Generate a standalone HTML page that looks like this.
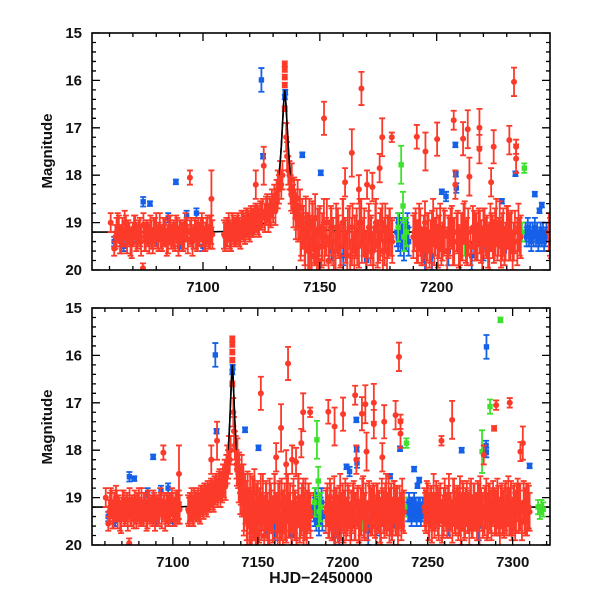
<!DOCTYPE html>
<html><head><meta charset="utf-8">
<style>
body{margin:0;background:#fff;}
svg{display:block;font-family:"Liberation Sans",sans-serif;}
.tl{font-size:15px;font-weight:bold;fill:#111;}
</style></head>
<body>
<svg id="chart" width="600" height="600" viewBox="0 0 600 600" xmlns="http://www.w3.org/2000/svg">
<defs>
<clipPath id="clipTop"><rect x="92" y="33" width="458" height="237"/></clipPath>
<clipPath id="clipBot"><rect x="92" y="308" width="458" height="237"/></clipPath>
</defs>
<text class="tl" transform="translate(52,151) rotate(-90)" text-anchor="middle" style="font-size:15px">Magnitude</text>
<text class="tl" transform="translate(52,427) rotate(-90)" text-anchor="middle" style="font-size:15px">Magnitude</text>
<text class="tl" x="321" y="583" text-anchor="middle" style="font-size:16px">HJD−2450000</text>
</svg>
<script>
// ---- data ----
const redT=[7060.5,7062,7063,7064,7065,7066,7067,7068,7069,7070,7071,7072,7073,7074.3,7075,7076,7077,7078,7079,7080,7081,7082,7083,7084,7085,7086,7087,7088,7089,7090,7091,7092,7093,7094.4,7095,7096,7097,7098,7099,7100,7101,7102,7103,7103.6,7104,
7109,7110,7111,7112,7113,7114,7115,7116,7117,7118,7119,7120,7121,7122,7122.6,7123,7124,7125,7126,7127,7128,7129,7130,7131,7132,7133,7134,
7135,7135,7135,7135,7135,7135.6,7136,7136.5,
7137,7137.5,7138,7138.5,7139,7139.5,7140,7140.5,7141,7141.5,7142,7142.5,7143,7143.5,7144,7144.5,7145,7145.5,7146,7146.5,7147,7147.5,7148,7148.5,7149,7149.5,7150,7151,7151.8,7152,7153,7154,7155,7156,7157,7158,7159,7160,7160.8,7161,7162,7163,7163.7,7164,7165,7166,7166.7,7167,7167.8,7168,7169,7170,7170.2,7171,7172,7172.5,7173,7174,7175,7175.6,7176,7176.7,7177,7178,7179,7180,7180.8,7181,
7190,7191,7191.5,7192,7193,7194,7195,7195.2,7196,7197,7198,7199,7200,7200.2,7201,7202,7203,7205,7206,7207,7207.3,7208,7209,7210,7211,7211.3,7212,7213,7213.3,7214,7216,7217,7218,7218.3,7218.3,7219,7220,7221,7222,7223,7223.3,7224,7224.4,7225,7226,7227,7228,7229,7230,7231,7231.1,7232,7233,7233.1,7234,7234,7235,7236,
7248,7249,7250,7251,7252,7253,7254,7255,7256,7257,7258.1,7259,7260,7261,7262,7263,7264.4,7265,7266,7267,7268,7269,7270,7271,7272,7273,7274,7275,7276,7277,7278,7279,7280,7281,7282,7283,7284,7285,7286,7287,7288,7289.1,7290,7290.3,7291,7292,7293,7294,7295,7296,7297,7298,7298.3,7299,7300,7301,7302,7303,7304,7304.6,7306,7307,7308,7309,7310];
const redM=[19.0,19.55,19.2,19.1,19.35,19.3,19.15,19.2,19.4,19.25,19.15,19.3,19.2,19.96,19.3,19.2,19.35,19.25,19.15,19.1,19.3,19.3,19.2,19.2,19.35,19.15,19.25,19.3,19.2,19.2,19.3,19.25,19.15,18.05,19.2,19.3,19.25,19.2,19.15,19.2,19.3,19.15,19.2,18.5,19.25,
19.25,19.2,19.1,19.3,19.15,19.2,19.1,19.25,19.05,19.15,19.0,19.1,19.0,18.95,18.2,18.9,19.0,18.85,17.8,18.75,18.9,18.8,18.7,18.75,18.3,18.0,18.0,
15.65,15.77,15.93,16.1,16.6,17.2,17.6,17.9,
18.0,18.3,18.1,18.5,18.4,18.6,18.8,18.5,19.0,18.7,19.3,18.9,19.1,19.5,18.9,19.2,19.6,19.0,19.3,19.7,19.1,19.4,18.9,19.5,19.2,19.8,19.1,19.3,16.8,19.5,19.0,19.4,19.2,19.6,19.1,19.3,19.5,19.0,18.15,19.4,19.2,19.7,17.53,19.1,19.3,19.5,18.3,19.0,16.17,19.4,19.2,19.6,18.2,19.1,19.3,18.25,19.5,19.0,19.4,17.85,19.2,17.2,19.6,19.1,19.3,19.2,17.2,19.4,
19.3,19.1,17.19,19.4,19.2,19.5,19.0,17.5,19.3,19.6,19.2,19.4,19.1,17.24,19.3,19.5,19.2,19.3,19.1,19.4,16.84,18.2,19.2,19.5,19.3,17.23,19.0,19.4,17.03,18.03,19.2,19.3,19.1,17.0,17.45,19.4,19.2,19.3,19.5,19.1,18.15,19.3,17.4,19.2,19.4,19.0,19.3,19.5,19.1,19.3,17.26,19.2,19.4,16.03,17.4,17.65,19.1,19.3,
19.2,19.3,19.1,19.4,19.2,19.3,19.5,19.1,19.3,19.2,17.8,19.4,19.1,19.3,19.2,19.5,17.36,19.1,19.3,19.2,19.4,19.0,19.3,19.2,19.5,19.1,19.3,19.2,19.4,19.1,19.3,19.5,19.2,19.0,19.3,18.1,19.2,19.4,19.1,19.3,19.2,17.54,19.3,17.05,19.1,19.4,19.2,19.3,19.5,19.1,19.2,19.3,17.0,19.1,19.4,19.2,19.3,19.0,19.2,18.03,17.85,19.3,19.1,19.2,19.3];
const redE=[0.2,0.15,0.3,0.25,0.3,0.2,0.3,0.25,0.3,0.25,0.3,0.25,0.3,0.1,0.3,0.25,0.3,0.3,0.25,0.3,0.3,0.25,0.3,0.25,0.3,0.3,0.25,0.3,0.3,0.25,0.3,0.3,0.25,0.15,0.3,0.25,0.3,0.3,0.25,0.3,0.3,0.3,0.35,0.6,0.3,
0.3,0.3,0.3,0.3,0.3,0.3,0.3,0.3,0.3,0.3,0.3,0.3,0.3,0.3,0.3,0.3,0.3,0.3,0.4,0.3,0.3,0.3,0.3,0.3,0.4,0.3,0.3,
0.05,0.05,0.05,0.05,0.05,0.3,0.3,0.3,
0.3,0.3,0.35,0.3,0.35,0.3,0.35,0.4,0.35,0.4,0.4,0.4,0.45,0.4,0.45,0.4,0.45,0.5,0.45,0.4,0.5,0.45,0.5,0.4,0.5,0.3,0.45,0.5,0.35,0.4,0.5,0.45,0.5,0.4,0.5,0.45,0.4,0.5,0.3,0.45,0.5,0.3,0.5,0.5,0.45,0.4,0.3,0.5,0.35,0.45,0.5,0.4,0.3,0.5,0.45,0.3,0.4,0.5,0.45,0.3,0.5,0.4,0.45,0.5,0.45,0.5,0.1,0.45,
0.45,0.4,0.25,0.45,0.5,0.4,0.45,0.4,0.5,0.35,0.45,0.5,0.4,0.35,0.45,0.4,0.5,0.45,0.4,0.5,0.2,0.3,0.45,0.4,0.5,0.35,0.45,0.5,0.4,0.4,0.45,0.5,0.4,0.4,0.3,0.45,0.5,0.4,0.45,0.5,0.3,0.45,0.35,0.5,0.4,0.45,0.5,0.4,0.45,0.5,0.3,0.45,0.4,0.3,0.15,0.3,0.5,0.45,
0.4,0.45,0.4,0.5,0.45,0.4,0.35,0.45,0.5,0.4,0.1,0.45,0.5,0.4,0.45,0.35,0.4,0.5,0.45,0.4,0.5,0.45,0.4,0.5,0.35,0.45,0.4,0.5,0.45,0.4,0.35,0.4,0.5,0.45,0.4,0.2,0.45,0.5,0.4,0.45,0.4,0.05,0.45,0.1,0.5,0.4,0.45,0.5,0.35,0.45,0.4,0.5,0.1,0.45,0.4,0.5,0.45,0.4,0.5,0.2,0.35,0.45,0.4,0.5,0.4];
// dense baseline red observations (interleaved)
const redDT=[7062.5,7063.5,7064.5,7065.5,7066.5,7067.5,7068.5,7069.5,7070.5,7071.5,7072.5,7073.5,7074.5,7075.5,7076.5,7077.5,7078.5,7079.5,7080.5,7081.5,7082.5,7083.5,7084.5,7085.5,7086.5,7087.5,7088.5,7089.5,7090.5,7091.5,7092.5,7093.5,7094.5,7095.5,7096.5,7097.5,7098.5,7099.5,7100.5,7101.5,7102.5,7103.5,
7109.5,7110.5,7111.5,7112.5,7113.5,7114.5,7115.5,7116.5,7117.5,7118.5,7119.5,7120.5,7121.5,7122.5,7123.5,7124.5,7125.5,7126.5,7127.5,7128.5,7129.5,7130.5,7131.5,7132.5,7133.5,
7137.75,7138.75,7139.75,7140.75,7141.75,7142.75,7143.75,7144.75,7145.75,7146.75,7147.75,7148.75,7149.75,7150.75,7151.75,7152.75,7153.75,7154.75,7155.75,7156.75,7157.75,7158.75,7159.75,7160.75,7161.75,7162.75,7163.75,7164.75,7165.75,7166.75,7167.75,7168.75,7169.75,7170.75,7171.75,7172.75,7173.75,7174.75,7175.75,7176.75,7177.75,7178.75,7179.75,7180.75,
7190.5,7191.5,7192.5,7193.5,7194.5,7195.5,7196.5,7197.5,7198.5,7199.5,7200.5,7201.5,7202.5,7203.5,7204.5,7205.5,7206.5,7207.5,7208.5,7209.5,7210.5,7211.5,7212.5,7213.5,7214.5,7215.5,7216.5,7217.5,7218.5,7219.5,7220.5,7221.5,7222.5,7223.5,7224.5,7225.5,7226.5,7227.5,7228.5,7229.5,7230.5,7231.5,7232.5,7233.5,7234.5,7235.5,
7248.5,7249.5,7250.5,7251.5,7252.5,7253.5,7254.5,7255.5,7256.5,7257.5,7258.5,7259.5,7260.5,7261.5,7262.5,7263.5,7264.5,7265.5,7266.5,7267.5,7268.5,7269.5,7270.5,7271.5,7272.5,7273.5,7274.5,7275.5,7276.5,7277.5,7278.5,7279.5,7280.5,7281.5,7282.5,7283.5,7284.5,7285.5,7286.5,7287.5,7288.5,7289.5,7290.5,7291.5,7292.5,7293.5,7294.5,7295.5,7296.5,7297.5,7298.5,7299.5,7300.5,7301.5,7302.5,7303.5,7304.5,7305.5,7306.5,7307.5,7308.5,7309.5];
const redDM=[19.3,19.1,19.4,19.2,19.0,19.35,19.25,19.45,19.1,19.3,19.2,19.4,19.05,19.3,19.25,19.15,19.4,19.2,19.3,19.1,19.35,19.2,19.45,19.15,19.3,19.25,19.1,19.4,19.2,19.3,19.05,19.35,19.2,19.4,19.15,19.3,19.25,19.1,19.35,19.2,19.3,19.15,
19.3,19.2,19.25,19.1,19.2,19.15,19.2,19.05,19.1,19.0,19.05,18.95,19.0,18.9,18.95,18.85,18.8,18.9,18.7,18.75,18.6,18.5,18.4,18.3,18.2,
18.4,18.7,18.9,19.0,19.3,19.1,19.5,19.2,19.6,19.0,19.4,19.7,19.2,19.5,19.0,19.3,19.8,19.1,19.4,19.6,19.2,19.5,19.0,19.3,19.7,19.1,19.4,19.6,19.2,19.5,19.0,19.3,19.7,19.2,19.4,19.6,19.1,19.5,19.3,19.0,19.4,19.6,19.2,19.3,
19.2,19.4,19.1,19.5,19.3,19.6,19.2,19.4,19.0,19.3,19.5,19.1,19.4,19.2,19.6,19.3,19.1,19.4,19.2,19.5,19.3,19.0,19.4,19.2,19.5,19.1,19.3,19.4,19.2,19.6,19.1,19.3,19.5,19.2,19.4,19.0,19.3,19.5,19.2,19.4,19.1,19.3,19.6,19.2,19.4,19.3,
19.3,19.1,19.4,19.2,19.5,19.0,19.3,19.2,19.4,19.1,19.5,19.3,19.2,19.4,19.0,19.3,19.5,19.1,19.4,19.2,19.3,19.6,19.1,19.4,19.2,19.3,19.5,19.0,19.4,19.2,19.3,19.1,19.5,19.2,19.4,19.3,19.0,19.4,19.2,19.5,19.1,19.3,19.4,19.2,19.6,19.1,19.3,19.2,19.4,19.0,19.3,19.5,19.2,19.4,19.1,19.3,19.2,19.5,19.1,19.3,19.4,19.2];
const redDE=[0.25,0.3,0.25,0.3,0.25,0.3,0.25,0.3,0.25,0.3,0.25,0.3,0.25,0.3,0.25,0.3,0.25,0.3,0.25,0.3,0.25,0.3,0.25,0.3,0.25,0.3,0.25,0.3,0.25,0.3,0.25,0.3,0.25,0.3,0.25,0.3,0.25,0.3,0.25,0.3,0.25,0.3,
0.3,0.3,0.3,0.3,0.3,0.3,0.3,0.3,0.3,0.3,0.3,0.3,0.3,0.3,0.3,0.3,0.3,0.3,0.3,0.3,0.3,0.3,0.3,0.3,0.3,
0.35,0.4,0.45,0.4,0.5,0.45,0.5,0.4,0.5,0.45,0.5,0.4,0.5,0.45,0.5,0.4,0.5,0.45,0.5,0.4,0.5,0.45,0.5,0.4,0.5,0.45,0.5,0.4,0.5,0.45,0.5,0.4,0.5,0.45,0.5,0.4,0.5,0.45,0.5,0.4,0.5,0.45,0.5,0.4,
0.4,0.45,0.5,0.4,0.45,0.5,0.4,0.45,0.5,0.4,0.45,0.5,0.4,0.45,0.5,0.4,0.45,0.5,0.4,0.45,0.5,0.4,0.45,0.5,0.4,0.45,0.5,0.4,0.45,0.5,0.4,0.45,0.5,0.4,0.45,0.5,0.4,0.45,0.5,0.4,0.45,0.5,0.4,0.45,0.5,0.4,
0.4,0.45,0.5,0.4,0.45,0.5,0.4,0.45,0.5,0.4,0.45,0.5,0.4,0.45,0.5,0.4,0.45,0.5,0.4,0.45,0.5,0.4,0.45,0.5,0.4,0.45,0.5,0.4,0.45,0.5,0.4,0.45,0.5,0.4,0.45,0.5,0.4,0.45,0.5,0.4,0.45,0.5,0.4,0.45,0.5,0.4,0.45,0.5,0.4,0.45,0.5,0.4,0.45,0.5,0.4,0.45,0.5,0.4,0.45,0.5,0.4,0.45];
const blueT=[7062,7066,7070,7074.4,7077.3,7080,7085.1,7088.4,7090,7093,7097.2,7100,7112,7118,7125.0,7125.7,7130,7135,7135.2,7142.5,7150.4,7155,7160,7165,7170,
7183,7183.5,7184,7184.5,7185,7185.5,7186,7186.5,7187,7187.5,7188,7195,7198,7202.2,7204,7205,7208,7208.2,7208.4,7215,7220,7227.9,7229,7233.7,7238,7238.5,7239,7239.5,7240,7240.5,7241,7241.5,7242,7242,7242.5,7243,7243.5,7244,7244,7244.5,7245,7245,7245.5,7246,7246.5,7247,
7262,7270,7275,7280,7284.4,7284.5,7284.6,7292,7300,7310];
const blueM=[19.4,19.5,19.3,18.56,18.6,19.4,18.9,18.14,19.5,18.85,18.8,19.5,19.3,19.2,15.99,17.6,18.6,16.35,16.25,17.57,17.95,19.6,19.7,19.5,19.8,
19.2,19.3,19.1,19.4,19.2,19.3,19.5,19.2,19.3,19.1,19.4,19.8,19.7,18.35,18.45,19.6,17.36,17.98,18.27,19.7,19.5,18.55,19.6,17.97,19.2,19.3,19.1,19.3,19.2,19.4,19.2,19.3,19.1,18.4,19.3,19.2,19.4,19.3,18.75,19.2,19.3,18.63,19.2,19.4,19.3,19.2,
19.6,18.0,19.5,19.6,17.9,18.05,15.82,19.6,19.5,18.33];
const blueE=[0.1,0.1,0.1,0.1,0.05,0.1,0.1,0.05,0.1,0.1,0.1,0.1,0.1,0.1,0.25,0.05,0.2,0.05,0.05,0.05,0.05,0.2,0.2,0.2,0.3,
0.3,0.3,0.3,0.3,0.3,0.3,0.3,0.3,0.3,0.3,0.3,0.3,0.3,0.05,0.1,0.3,0.05,0.05,0.1,0.3,0.3,0.05,0.3,0.05,0.2,0.2,0.2,0.2,0.2,0.2,0.2,0.2,0.2,0.05,0.2,0.2,0.2,0.2,0.05,0.2,0.2,0.05,0.2,0.2,0.2,0.2,
0.2,0.05,0.2,0.3,0.1,0.1,0.25,0.2,0.2,0.05];
const greenT=[7183.5,7184.8,7185.6,7186,7187,7212,7236.5,7237.5,7282,7286.7,7292.8,7315,7316,7317,7318];
const greenM=[19.1,17.78,18.65,19.3,19.2,19.4,19.2,17.85,18.03,17.08,15.25,19.2,19.3,19.2,19.25];
const greenE=[0.3,0.4,0.3,0.3,0.3,0.3,0.2,0.1,0.45,0.15,0.05,0.15,0.15,0.15,0.15];
const modelT=[7050,7100,7115,7120,7124,7126,7128,7129,7130,7131,7132,7133,7133.5,7134,7134.5,7135,7135.5,7136,7136.5,7137,7138,7139,7140,7142,7144,7147,7150,7155,7160,7170,7330];
const modelM=[19.2,19.2,19.18,19.15,19.08,19.02,18.92,18.82,18.68,18.48,18.2,17.75,17.4,16.95,16.5,16.2,16.5,16.95,17.4,17.75,18.2,18.48,18.68,18.92,19.02,19.1,19.14,19.17,19.19,19.2,19.2];
const xTicksTop=[7100,7150,7200];
const xTicksBot=[7100,7150,7200,7250,7300];
const yTicks=[15,16,17,18,19,20];

const NS='http://www.w3.org/2000/svg';
const svg=document.getElementById('chart');
const defs=svg.querySelector('defs');
const RED='#fc3a2a',BLUE='#1560e8',GREEN='#3ee22e';
function mk(tag,attrs,parent){const e=document.createElementNS(NS,tag);for(const k in attrs)e.setAttribute(k,attrs[k]);(parent||svg).appendChild(e);return e;}

function panel(name,top,bottom,tmin,tmax,xTicks,clipId){
  const L=92,R=550;
  const xs=t=>L+(t-tmin)/(tmax-tmin)*(R-L);
  const ys=m=>top+(m-15)/5*(bottom-top);
  const g=mk('g',{'clip-path':'url(#'+clipId+')'});
  
  
  function series(T,M,E,col,sname,square){
    const sg=mk('g',{},g);
    
    
    for(let i=0;i<T.length;i++){
      const x=xs(T[i]),y=ys(M[i]),y1=ys(M[i]-E[i]),y2=ys(M[i]+E[i]);
      const p=mk('path',{d:`M${x},${y1}V${y2}M${x-3},${y1}H${x+3}M${x-3},${y2}H${x+3}`,stroke:col,'stroke-width':1.8,fill:'none'},sg);
      
      
      let c;
      if(square){c=mk('rect',{x:x-2.7,y:y-2.7,width:5.4,height:5.4,fill:col},sg);}
      else{c=mk('circle',{cx:x,cy:y,r:3,fill:col},sg);}
      
      
    }
  }
  let d='';
  for(let i=0;i<modelT.length;i++)d+=(i?'L':'M')+xs(modelT[i])+','+ys(modelM[i]);
  const ml=mk('path',{d:d,stroke:'#000','stroke-width':1.6,fill:'none'},g);
  
  
  series(blueT,blueM,blueE,BLUE,'blue',true);
  series(greenT,greenM,greenE,GREEN,'green',true);
  series(redDT,redDM,redDE,RED,'red-baseline',false);
  series(redT,redM,redE,RED,'red',false);
  const cp=mk('clipPath',{id:clipId+'Peak'},defs);
  mk('rect',{x:xs(7132.5),y:top,width:xs(7137.5)-xs(7132.5),height:ys(18.0)-top},cp);
  const pk=mk('path',{d:d,stroke:'#000','stroke-width':1.5,fill:'none','clip-path':'url(#'+clipId+'Peak)'},g);
  
  
  const fr=mk('rect',{x:L,y:top,width:R-L,height:bottom-top,fill:'none',stroke:'#000','stroke-width':1.6});
  
  
  let td='';
  for(let t=Math.ceil(tmin/10)*10;t<=tmax;t+=10){const x=xs(t),len=(t%50===0)?8:4;td+=`M${x},${bottom}v${-len}M${x},${top}v${len}`;}
  for(let m=15;m<=20.001;m+=0.2){const y=ys(m),len=(Math.abs(m-Math.round(m))<0.01)?8:4;td+=`M${L},${y}h${len}M${R},${y}h${-len}`;}
  const tk=mk('path',{d:td,stroke:'#000','stroke-width':1.3,fill:'none'});
  
  
  xTicks.forEach(t=>{const tx=mk('text',{x:xs(t),y:bottom+22,'text-anchor':'middle',class:'tl'});tx.textContent=t;
    
    });
  yTicks.forEach(m=>{const tx=mk('text',{x:82,y:ys(m)+5,'text-anchor':'end',class:'tl'});tx.textContent=m;
    
    });
}
panel('top-panel',33,270,7052.5,7248.5,xTicksTop,'clipTop');
panel('bottom-panel',308,545,7052.4,7322,xTicksBot,'clipBot');
</script>
</body></html>
